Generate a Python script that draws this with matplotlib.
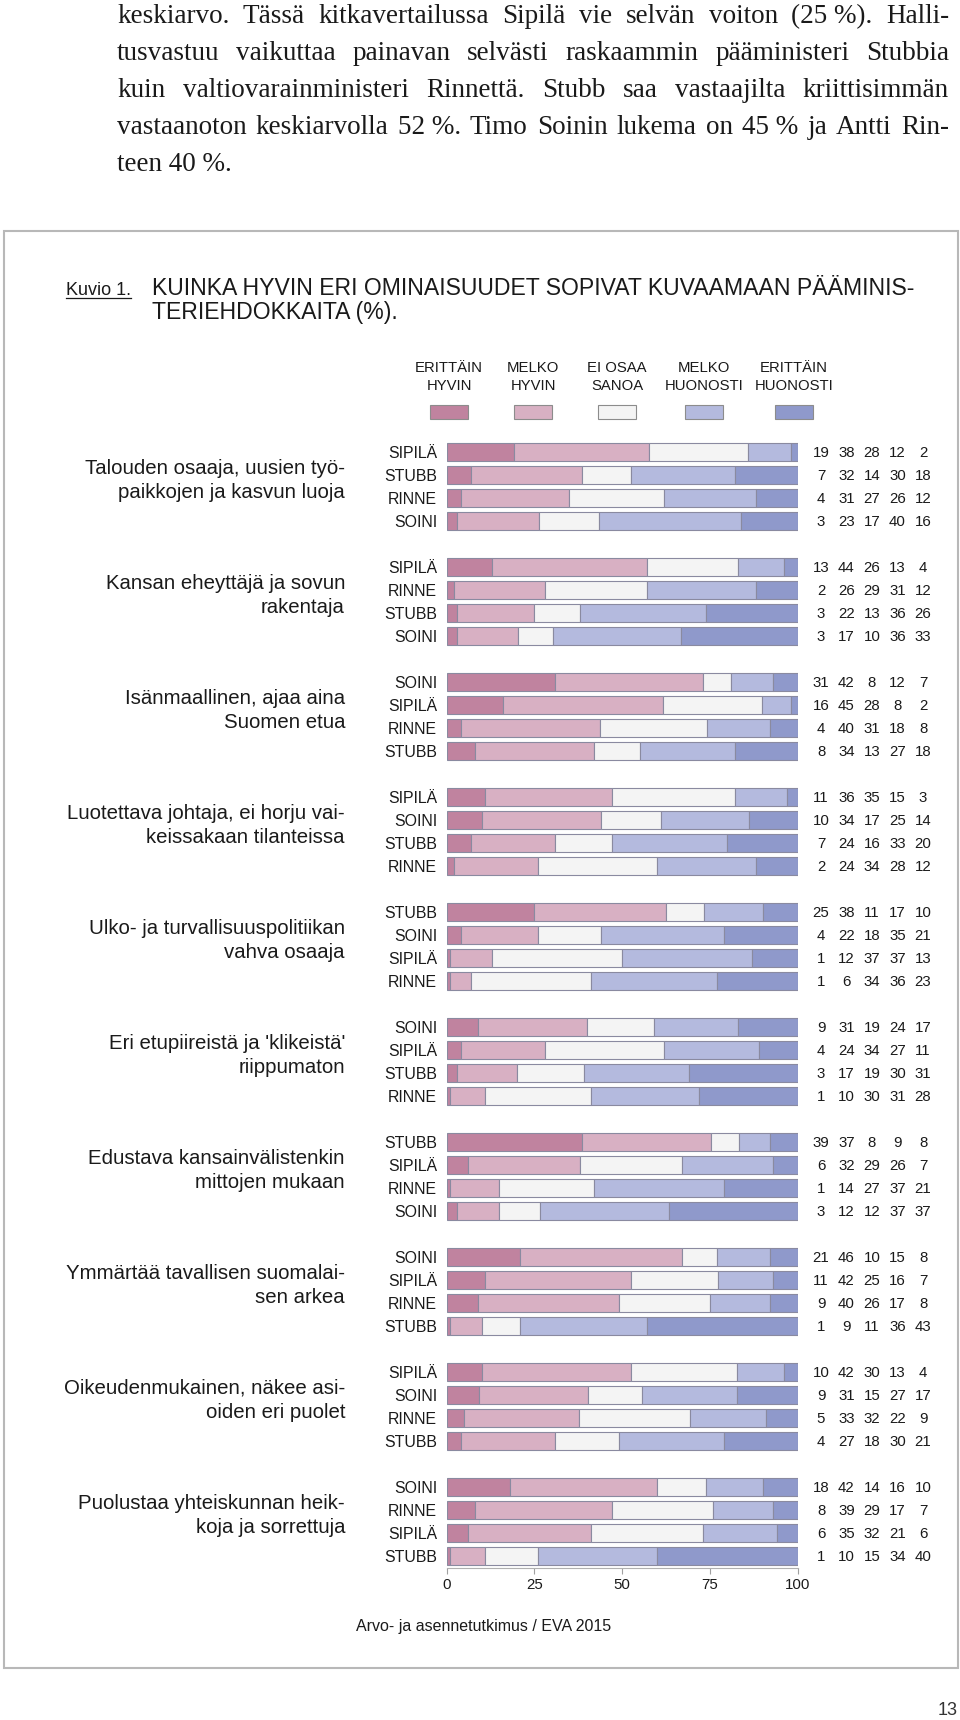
"""Kuvio 1: kuinka hyvin ominaisuudet sopivat pääministeriehdokkaisiin."""

import numpy as np
import matplotlib
matplotlib.use("Agg")
from matplotlib import pyplot as plt
from matplotlib import font_manager, transforms
from matplotlib.lines import Line2D
from matplotlib.patches import Rectangle

plt.rcParams["font.family"] = ["Liberation Sans", "DejaVu Sans"]

# --- data -------------------------------------------------------------------
categories = [
    "Talouden osaaja, uusien työ-\npaikkojen ja kasvun luoja",
    "Kansan eheyttäjä ja sovun\nrakentaja",
    "Isänmaallinen, ajaa aina\nSuomen etua",
    "Luotettava johtaja, ei horju vai-\nkeissakaan tilanteissa",
    "Ulko- ja turvallisuuspolitiikan\nvahva osaaja",
    "Eri etupiireistä ja 'klikeistä'\nriippumaton",
    "Edustava kansainvälistenkin\nmittojen mukaan",
    "Ymmärtää tavallisen suomalai-\nsen arkea",
    "Oikeudenmukainen, näkee asi-\noiden eri puolet",
    "Puolustaa yhteiskunnan heik-\nkoja ja sorrettuja",
]
candidates = [
    ["SIPILÄ", "STUBB", "RINNE", "SOINI"],
    ["SIPILÄ", "RINNE", "STUBB", "SOINI"],
    ["SOINI", "SIPILÄ", "RINNE", "STUBB"],
    ["SIPILÄ", "SOINI", "STUBB", "RINNE"],
    ["STUBB", "SOINI", "SIPILÄ", "RINNE"],
    ["SOINI", "SIPILÄ", "STUBB", "RINNE"],
    ["STUBB", "SIPILÄ", "RINNE", "SOINI"],
    ["SOINI", "SIPILÄ", "RINNE", "STUBB"],
    ["SIPILÄ", "SOINI", "RINNE", "STUBB"],
    ["SOINI", "RINNE", "SIPILÄ", "STUBB"],
]
legend_labels = ["ERITTÄIN\nHYVIN", "MELKO\nHYVIN", "EI OSAA\nSANOA",
                 "MELKO\nHUONOSTI", "ERITTÄIN\nHUONOSTI"]

erittain_hyvin = [[19, 7, 4, 3], [13, 2, 3, 3], [31, 16, 4, 8], [11, 10, 7, 2],
                  [25, 4, 1, 1], [9, 4, 3, 1], [39, 6, 1, 3], [21, 11, 9, 1],
                  [10, 9, 5, 4], [18, 8, 6, 1]]
melko_hyvin = [[38, 32, 31, 23], [44, 26, 22, 17], [42, 45, 40, 34],
               [36, 34, 24, 24], [38, 22, 12, 6], [31, 24, 17, 10],
               [37, 32, 14, 12], [46, 42, 40, 9], [42, 31, 33, 27],
               [42, 39, 35, 10]]
ei_osaa = [[28, 14, 27, 17], [26, 29, 13, 10], [8, 28, 31, 13],
           [35, 17, 16, 34], [11, 18, 37, 34], [19, 34, 19, 30],
           [8, 29, 27, 12], [10, 25, 26, 11], [30, 15, 32, 18],
           [14, 29, 32, 15]]
melko_huonosti = [[12, 30, 26, 40], [13, 31, 36, 36], [12, 8, 18, 27],
                  [15, 25, 33, 28], [17, 35, 37, 36], [24, 27, 30, 31],
                  [9, 26, 37, 37], [15, 16, 17, 36], [13, 27, 22, 30],
                  [16, 17, 21, 34]]
erittain_huonosti = [[2, 18, 12, 16], [4, 12, 26, 33], [7, 2, 8, 18],
                     [3, 14, 20, 12], [10, 21, 13, 23], [17, 11, 31, 28],
                     [8, 7, 21, 37], [8, 7, 8, 43], [4, 17, 9, 21],
                     [10, 7, 6, 40]]

body_lines = [
    "keskiarvo. Tässä kitkavertailussa Sipilä vie selvän voiton (25\u00a0%). Halli-",
    "tusvastuu vaikuttaa painavan selvästi raskaammin pääministeri Stubbia",
    "kuin valtiovarainministeri Rinnettä. Stubb saa vastaajilta kriittisimmän",
    "vastaanoton keskiarvolla 52\u00a0%. Timo Soinin lukema on 45\u00a0% ja Antti Rin-",
    "teen 40\u00a0%.",
]

colors = ["#c0839f", "#d8b0c3", "#f4f4f4", "#b4bade", "#8f99cb"]
EDGE = "#8a8aa0"
INK = "#1a1a1a"

# the legend and page number are set in a narrow face in the original
installed = {f.name for f in font_manager.fontManager.ttflist}
if "Liberation Sans Narrow" in installed:
    NARROW, LEG_SIZE, PAGE_SIZE = ["Liberation Sans Narrow", "DejaVu Sans"], 12.8, 15.5
else:
    NARROW, LEG_SIZE, PAGE_SIZE = ["Liberation Sans", "DejaVu Sans"], 10.7, 13

# --- figure -----------------------------------------------------------------
W, H = 960, 1720
fig = plt.figure(figsize=(W / 100, H / 100), dpi=100)
fig.patch.set_facecolor("white")
renderer = fig.canvas.get_renderer()


def put(x, y, s, **kw):
    """Figure text placed in pixel coordinates measured from the top-left."""
    kw.setdefault("color", INK)
    return fig.text(x / W, 1 - y / H, s, **kw)


def width_px(s, size, family):
    t = put(0, 0, s, fontsize=size, family=family)
    w = t.get_window_extent(renderer).width
    t.remove()
    return w


# justified body text above the figure box
SERIF = ["Liberation Serif", "DejaVu Serif"]
BX0, BX1 = 117, 949
natural = max(width_px(line, 20, SERIF) for line in body_lines[:-1])
body_size = min(21, 20 * (BX1 - BX0) / natural * 0.97)
for i, line in enumerate(body_lines):
    y = 23 + 37 * i
    if i == len(body_lines) - 1:
        put(BX0, y, line, fontsize=body_size, family=SERIF, va="baseline")
        continue
    words = line.split(" ")
    ws = [width_px(w, body_size, SERIF) for w in words]
    gap = (BX1 - BX0 - sum(ws)) / (len(words) - 1)
    x = BX0
    for w, wpx in zip(words, ws):
        put(x, y, w, fontsize=body_size, family=SERIF, va="baseline")
        x += wpx + gap

# frame
fig.add_artist(Rectangle((4 / W, 1 - 1668 / H), 954 / W, 1437 / H,
                         transform=fig.transFigure, fill=False,
                         edgecolor="#b8b8b8", linewidth=1.5))

# caption
kuvio = put(66, 295, "Kuvio 1.", fontsize=13, va="baseline")
kw = kuvio.get_window_extent(renderer).width
fig.add_artist(Line2D([66 / W, (66 + kw) / W], [1 - 298 / H] * 2,
                      transform=fig.transFigure, color=INK, linewidth=0.9))
put(152, 295, "KUINKA HYVIN ERI OMINAISUUDET SOPIVAT KUVAAMAAN PÄÄMINIS-",
    fontsize=16.6, va="baseline")
put(152, 319, "TERIEHDOKKAITA (%).", fontsize=16.6, va="baseline")

# legend
leg_x = [449, 533, 617, 704, 794]
for cx, lab, col in zip(leg_x, legend_labels, colors):
    top, bottom = lab.split("\n")
    put(cx, 372, top, fontsize=LEG_SIZE, family=NARROW, ha="center", va="baseline")
    put(cx, 390.5, bottom, fontsize=LEG_SIZE, family=NARROW, ha="center",
        va="baseline")
    fig.add_artist(Rectangle(((cx - 19) / W, 1 - 419 / H), 38 / W, 14 / H,
                             transform=fig.transFigure, facecolor=col,
                             edgecolor="#8c8c8c", linewidth=0.8))

# bars
X0, X1 = 446.6, 797.7
TOP, BOT = 440.5, 1567.5
ax = fig.add_axes([X0 / W, 1 - BOT / H, (X1 - X0) / W, (BOT - TOP) / H])

vals = np.array([erittain_hyvin, melko_hyvin, ei_osaa, melko_huonosti,
                 erittain_huonosti], dtype=float)
shares = vals / vals.sum(axis=0) * 100
slots = np.array([[5 * g + r for r in range(4)] for g in range(len(categories))])

left = np.zeros(slots.shape)
for k in range(len(colors)):
    ax.barh(slots.ravel(), shares[k].ravel(), left=left.ravel(), height=0.77,
            color=colors[k], edgecolor=EDGE, linewidth=0.8)
    left += shares[k]

ax.set_xlim(0, 100)
ax.set_ylim(slots.max() + 0.5, -0.5)
ax.set_xticks([0, 25, 50, 75, 100])
ax.set_yticks([])
for side in ("left", "top", "right"):
    ax.spines[side].set_visible(False)
ax.spines["bottom"].set_color("#b0b0b0")
ax.spines["bottom"].set_linewidth(0.8)
ax.tick_params(axis="x", length=4, width=0.8, color="#a0a0a0",
               labelsize=10.8, labelcolor=INK, pad=3.6)
ax.patch.set_visible(False)


def px_to_data(px):
    return (px - X0) / (X1 - X0) * 100


cand_tr = transforms.offset_copy(ax.transData, fig=fig, y=-5.6, units="dots")
num_tr = transforms.offset_copy(ax.transData, fig=fig, y=-5.4, units="dots")
num_x = [821, 846.5, 872, 897.5, 923]
for g, names in enumerate(candidates):
    for r, name in enumerate(names):
        s = slots[g, r]
        ax.text(px_to_data(437), s, name, transform=cand_tr, ha="right",
                va="baseline", fontsize=11.4, color=INK, clip_on=False)
        for k, nx in enumerate(num_x):
            ax.text(px_to_data(nx), s, f"{vals[k, g, r]:.0f}", transform=num_tr,
                    ha="center", va="baseline", fontsize=10.8, color=INK,
                    clip_on=False)

# category labels, right aligned left of the candidate names
row_h = (BOT - TOP) / (slots.max() + 1)
for g, cat in enumerate(categories):
    gc = TOP + row_h * (5 * g + 2)
    l1, l2 = cat.split("\n")
    put(345, gc - 12.5, l1, fontsize=14.7, ha="right", va="baseline")
    put(345, gc + 11.5, l2, fontsize=14.7, ha="right", va="baseline")

put(484, 1630.5, "Arvo- ja asennetutkimus / EVA 2015", fontsize=11.5,
    ha="center", va="baseline")
put(958, 1715, "13", fontsize=PAGE_SIZE, family=NARROW, ha="right",
    va="baseline", color="#333333")

fig.savefig("out.png", dpi=100, facecolor="white")
plt.close(fig)
